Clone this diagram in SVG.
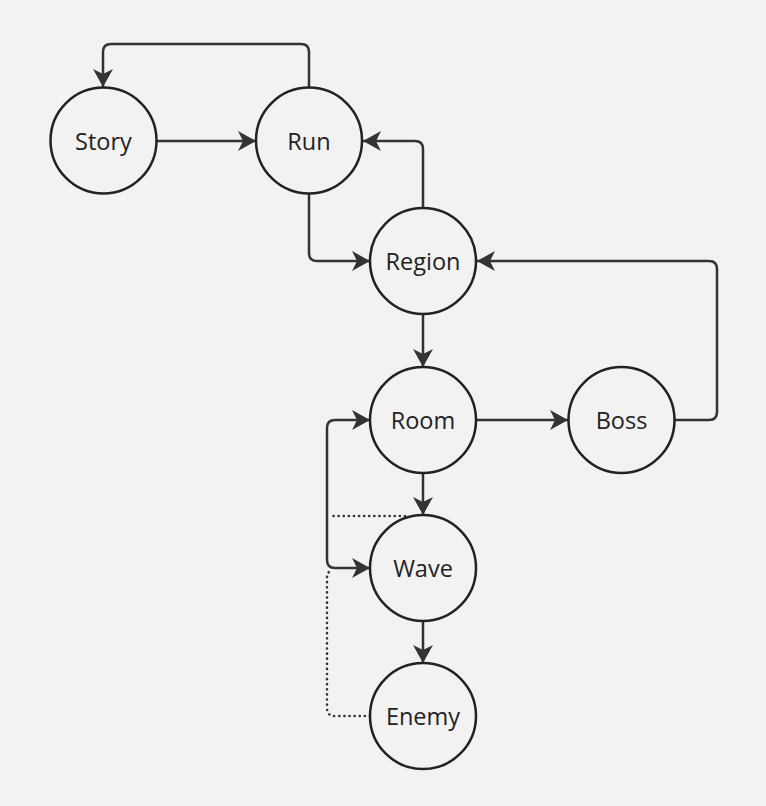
<svg xmlns="http://www.w3.org/2000/svg" width="766" height="806" viewBox="0 0 766 806">
<defs>
<marker id="ah" markerUnits="userSpaceOnUse" markerWidth="22" markerHeight="22" viewBox="0 0 22 22" refX="19" refY="11" orient="auto">
<path d="M1,1 L19,11 L1,21 L6,11 z" fill="#333"/>
</marker>
<style>
.n circle{fill:#f2f2f2;stroke:#222;stroke-width:2.5}
.n text{font-family:"Open Sans","Noto Sans",sans-serif;font-size:23.5px;fill:#222;text-anchor:middle;dominant-baseline:central}
.c path{fill:none;stroke:#333;stroke-width:2.5}
.c .d{stroke-dasharray:0.1 5;stroke-width:2.6;stroke-linecap:round}
.c .a{marker-end:url(#ah)}
</style>
</defs>
<rect width="766" height="806" fill="#f2f2f2"/>
<g id="connectors" class="c">
<path class="a" d="M157,141 H256"/>
<path class="a" d="M309,88 V52 Q309,44 301,44 H111 Q103,44 103,52 V87"/>
<path class="a" d="M423,208 V149 Q423,141 415,141 H363"/>
<path class="a" d="M309,194 V253 Q309,261 317,261 H370"/>
<path class="a" d="M423,314 V367"/>
<path class="a" d="M476,420 H568"/>
<path class="a" d="M675,420 H709 Q717,420 717,412 V269 Q717,261 709,261 H477"/>
<path class="a" d="M423,473 V515"/>
<path class="a" d="M423,621 V663"/>
<path class="a" d="M327,494 V428 Q327,420 335,420 H370"/>
<path class="a" d="M327,494 V560 Q327,568 335,568 H370"/>
<path class="d" d="M405,516 H330"/>
<path class="d" d="M370,716 H335 Q327,716 327,708 V578 Q327,571 333,570"/>
</g>
<g id="story" class="n"><circle cx="103.5" cy="140.5" r="53"/><text x="103.5" y="141">Story</text></g>
<g id="run" class="n"><circle cx="309" cy="140.5" r="53"/><text x="309" y="141">Run</text></g>
<g id="region" class="n"><circle cx="423" cy="261" r="53"/><text x="423" y="261">Region</text></g>
<g id="room" class="n"><circle cx="423" cy="420" r="53"/><text x="423" y="420">Room</text></g>
<g id="boss" class="n"><circle cx="621.5" cy="420" r="53"/><text x="621.5" y="420">Boss</text></g>
<g id="wave" class="n"><circle cx="423" cy="568" r="53"/><text x="423" y="568">Wave</text></g>
<g id="enemy" class="n"><circle cx="423" cy="716" r="53"/><text x="423" y="716">Enemy</text></g>
</svg>
